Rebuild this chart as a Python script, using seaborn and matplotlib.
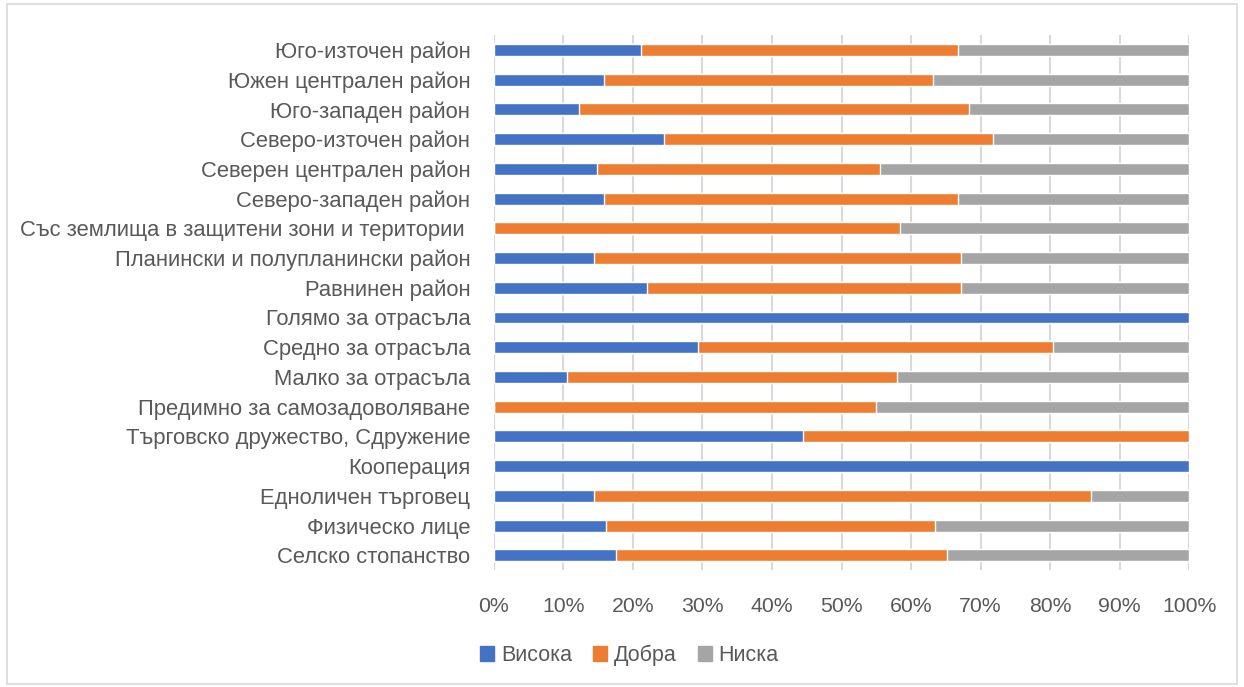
import numpy as np
import pandas as pd
import matplotlib.pyplot as plt
import seaborn as sns
from matplotlib.patches import Patch, Rectangle

categories = ["Юго-източен район", "Южен централен район", "Юго-западен район",
              "Северо-източен район", "Северен централен район", "Северо-западен район",
              "Със землища в защитени зони и територии ", "Планински и полупланински район",
              "Равнинен район", "Голямо за отрасъла", "Средно за отрасъла", "Малко за отрасъла",
              "Предимно за самозадоволяване", "Търговско дружество, Сдружение", "Кооперация",
              "Едноличен търговец", "Физическо лице", "Селско стопанство"]
visoka = [21.1, 15.8, 12.2, 24.5, 14.8, 15.8, 0.0, 14.4, 22.0, 100.0,
          29.3, 10.5, 0.0, 44.5, 100.0, 14.4, 16.1, 17.6]
dobra = [45.6, 47.4, 56.1, 47.3, 40.7, 50.9, 58.4, 52.8, 45.2, 0.0,
         51.1, 47.4, 55.0, 55.5, 0.0, 71.4, 47.3, 47.6]
niska = [33.3, 36.8, 31.7, 28.2, 44.5, 33.3, 41.6, 32.8, 32.8, 0.0,
         19.6, 42.1, 45.0, 0.0, 0.0, 14.2, 36.6, 34.8]
series = ["Висока", "Добра", "Ниска"]
colors = ["#4472c4", "#ed7d31", "#a5a5a5"]

df = pd.DataFrame({"cat": categories, "Висока": visoka, "Добра": dobra, "Ниска": niska})
df["c1"] = df["Висока"]
df["c2"] = df["c1"] + df["Добра"]
df["c3"] = df["c2"] + df["Ниска"]

sns.set_theme(style="white")
plt.rcParams['font.family'] = ['Liberation Sans', 'DejaVu Sans']
txt = "#595959"

fig = plt.figure(figsize=(12.44, 6.87), dpi=100)
ax = fig.add_axes([0.397, 0.170, 0.559, 0.779])

# stacked bars drawn as layered cumulative totals
for col, c in zip(["c3", "c2", "c1"], colors[::-1]):
    sns.barplot(data=df, y="cat", x=col, orient="h", color=c, width=0.4,
                saturation=1, ax=ax, zorder=3)

ax.set_xlim(0, 100)
ax.set_ylim(17.5, -0.5)
ax.set_xticks(np.arange(0, 101, 10))
ax.set_xticklabels([f"{v}%" for v in range(0, 101, 10)])
ax.xaxis.grid(True, color="#d9d9d9", linewidth=1.5, zorder=0)
ax.axvline(0, color="#d9d9d9", linewidth=1.5, zorder=1)
ax.set_xlabel("")
ax.set_ylabel("")
for s in ax.spines.values():
    s.set_visible(False)
ax.tick_params(axis="x", length=0, pad=19, labelsize=15.3, labelcolor=txt)
ax.tick_params(axis="y", length=0, pad=17, labelsize=15.8, labelcolor=txt)

handles = [Patch(color=c, label=s) for s, c in zip(series, colors)]
fig.legend(handles=handles, loc="center", bbox_to_anchor=(0.506, 0.046), ncol=3,
           frameon=False, fontsize=15.5, labelcolor=txt, handlelength=0.65,
           handleheight=0.65, handletextpad=0.3, columnspacing=1.0)

fig.patches.append(Rectangle((0.006, 0.004), 0.988, 0.99, transform=fig.transFigure,
                             fill=False, edgecolor="#d9d9d9", linewidth=1.2))

fig.savefig("out.png", dpi=100)
